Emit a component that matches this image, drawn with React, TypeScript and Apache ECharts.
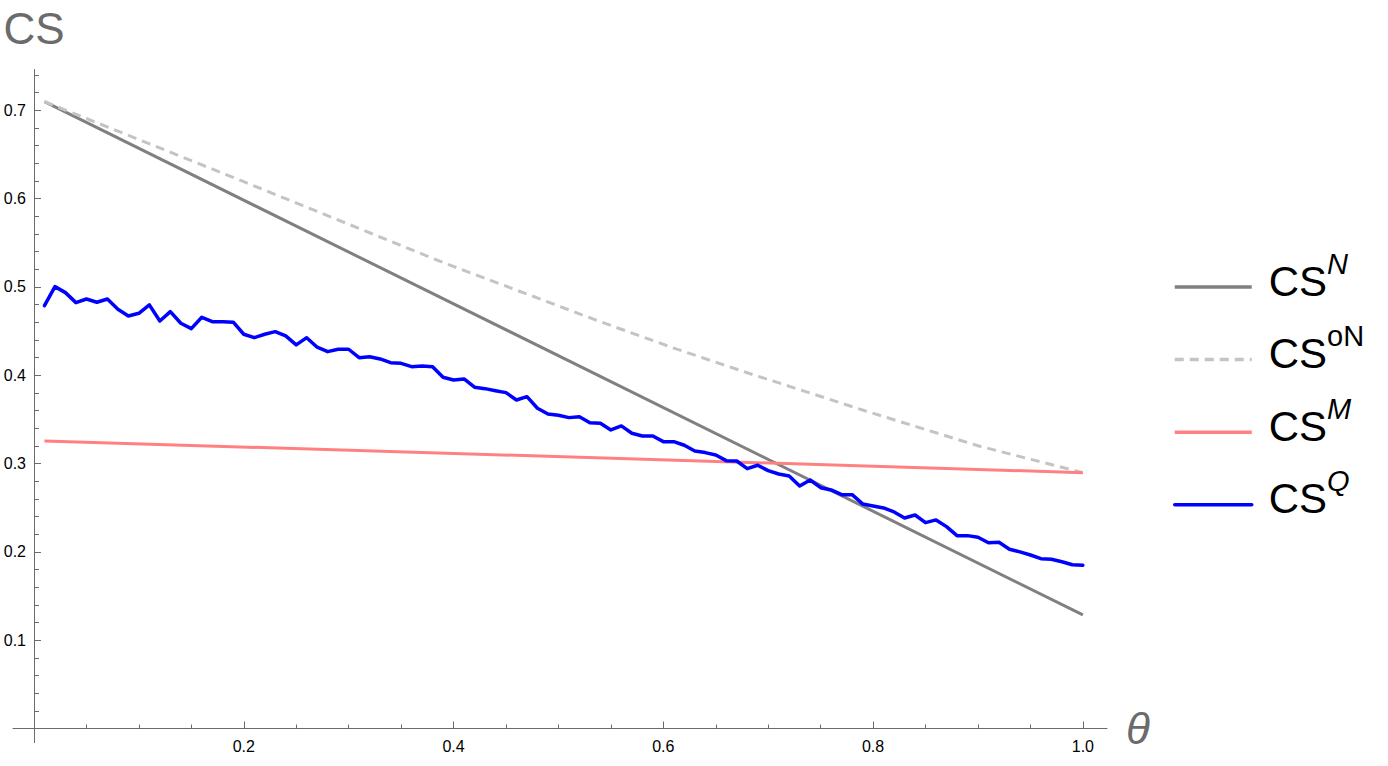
import React, { useEffect, useRef } from 'react';
import * as echarts from 'echarts';

// theta grid of the simulated CS^Q curve
const thetaQ = [
  0.01, 0.02, 0.03, 0.04, 0.05, 0.06, 0.07, 0.08, 0.09, 0.10,
  0.11, 0.12, 0.13, 0.14, 0.15, 0.16, 0.17, 0.18, 0.19, 0.20,
  0.21, 0.22, 0.23, 0.24, 0.25, 0.26, 0.27, 0.28, 0.29, 0.30,
  0.31, 0.32, 0.33, 0.34, 0.35, 0.36, 0.37, 0.38, 0.39, 0.40,
  0.41, 0.42, 0.43, 0.44, 0.45, 0.46, 0.47, 0.48, 0.49, 0.50,
  0.51, 0.52, 0.53, 0.54, 0.55, 0.56, 0.57, 0.58, 0.59, 0.60,
  0.61, 0.62, 0.63, 0.64, 0.65, 0.66, 0.67, 0.68, 0.69, 0.70,
  0.71, 0.72, 0.73, 0.74, 0.75, 0.76, 0.77, 0.78, 0.79, 0.80,
  0.81, 0.82, 0.83, 0.84, 0.85, 0.86, 0.87, 0.88, 0.89, 0.90,
  0.91, 0.92, 0.93, 0.94, 0.95, 0.96, 0.97, 0.98, 0.99, 1.00,
];
const csQ = [
  0.4787, 0.5002, 0.4934, 0.4821, 0.4862, 0.4825, 0.4862, 0.4746, 0.4670, 0.4700,
  0.4795, 0.4613, 0.4719, 0.4587, 0.4526, 0.4655, 0.4605, 0.4605, 0.4599, 0.4463,
  0.4424, 0.4463, 0.4492, 0.4444, 0.4342, 0.4424, 0.4316, 0.4266, 0.4293, 0.4293,
  0.4198, 0.4209, 0.4183, 0.4141, 0.4134, 0.4096, 0.4104, 0.4096, 0.3976, 0.3945,
  0.3957, 0.3863, 0.3847, 0.3824, 0.3802, 0.3719, 0.3756, 0.3625, 0.3560, 0.3546,
  0.3519, 0.3530, 0.3462, 0.3455, 0.3379, 0.3425, 0.3342, 0.3311, 0.3311, 0.3247,
  0.3247, 0.3206, 0.3142, 0.3123, 0.3096, 0.3032, 0.3028, 0.2941, 0.2980, 0.2919,
  0.2881, 0.2859, 0.2745, 0.2813, 0.2726, 0.2700, 0.2647, 0.2647, 0.2542, 0.2519,
  0.2496, 0.2451, 0.2383, 0.2417, 0.2330, 0.2361, 0.2285, 0.2183, 0.2183, 0.2165,
  0.2103, 0.2108, 0.2029, 0.1999, 0.1964, 0.1922, 0.1916, 0.1888, 0.1854, 0.1848,
];

const thetaN = [0.01, 1.0];
const csN = [0.7096, 0.1285];

const thetaON = [0.01, 0.2, 0.39, 0.54, 0.61, 0.68, 0.79, 0.9, 1.0];
const csON = [0.7096, 0.619, 0.5275, 0.4605, 0.4306, 0.4027, 0.3605, 0.3200, 0.2896];

const thetaM = [0.01, 1.0];
const csM = [0.3255, 0.2896];

const xMajorTicks = [0.2, 0.4, 0.6, 0.8, 1.0];
const xMinorTicks = [0.05, 0.1, 0.15, 0.25, 0.3, 0.35, 0.45, 0.5, 0.55, 0.65, 0.7, 0.75, 0.85, 0.9, 0.95];
const yMajorTicks = [0.1, 0.2, 0.3, 0.4, 0.5, 0.6, 0.7];
const yMinorTicks = [
  0.02, 0.04, 0.06, 0.08, 0.12, 0.14, 0.16, 0.18, 0.22, 0.24, 0.26, 0.28,
  0.32, 0.34, 0.36, 0.38, 0.42, 0.44, 0.46, 0.48, 0.52, 0.54, 0.56, 0.58,
  0.62, 0.64, 0.66, 0.68, 0.72, 0.74,
];

const seriesNames = ['CS^N', 'CS^oN', 'CS^M', 'CS^Q'];
const legendLabels: Record<string, string> = {
  'CS^N': '{b|CS}{si|N}\n{e| }',
  'CS^oN': '{b|CS}{su|oN}\n{e| }',
  'CS^M': '{b|CS}{si|M}\n{e| }',
  'CS^Q': '{b|CS}{si|Q}\n{e| }',
};

const zip = (xs: number[], ys: number[]) => xs.map((x, i) => [x, ys[i]]);

const FONT = '"Liberation Sans", Arial, Helvetica, sans-serif';
const AXIS_COLOR = '#6b6b6b';

export default function App() {
  const ref = useRef<HTMLDivElement>(null);
  useEffect(() => {
    if (!ref.current) return;
    const chart = echarts.init(ref.current, null, { renderer: 'svg' });
    const xRange = { min: -0.02, max: 1.023 };
    const yRange = { min: -0.016, max: 0.746 };
    const option: any = {
      animation: false,
      backgroundColor: '#ffffff',
      grid: {
        left: 13, right: 281, top: 69.5, bottom: 23.4,
        containLabel: false, outerBoundsMode: 'none',
      },
      legend: {
        orient: 'vertical',
        left: 1173,
        top: 249,
        padding: 0,
        itemWidth: 77,
        itemHeight: 14,
        itemGap: -1.4,
        data: seriesNames,
        formatter: (name: string) => legendLabels[name],
        itemStyle: { opacity: 0, color: 'rgba(0,0,0,0)', borderWidth: 0 },
        lineStyle: { width: 3.5 },
        textStyle: {
          color: '#000',
          fontFamily: FONT,
          rich: {
            b: { fontSize: 42, fontFamily: FONT, color: '#000', lineHeight: 64, verticalAlign: 'middle', padding: [0, 0, 0, 12] },
            si: { fontSize: 29, fontFamily: FONT, fontStyle: 'italic', color: '#000', lineHeight: 32, verticalAlign: 'top' },
            su: { fontSize: 29, fontFamily: FONT, color: '#000', lineHeight: 32, verticalAlign: 'top' },
            e: { fontSize: 8, lineHeight: 12 },
          },
        },
      },
      xAxis: [
        {
          type: 'value',
          ...xRange,
          position: 'bottom',
          name: 'θ',
          nameLocation: 'end',
          nameGap: 19,
          nameTextStyle: { fontSize: 44, fontStyle: 'italic', color: AXIS_COLOR, fontFamily: FONT },
          axisLine: { show: true, onZero: true, onZeroAxisIndex: 0, lineStyle: { color: AXIS_COLOR, width: 1 } },
          axisTick: { show: true, inside: true, length: 7, customValues: xMajorTicks, lineStyle: { color: AXIS_COLOR } },
          axisLabel: {
            show: true, customValues: xMajorTicks, margin: -4, fontSize: 16, color: '#000', fontFamily: FONT,
            formatter: (v: number) => v.toFixed(1),
          },
          splitLine: { show: false },
        },
        {
          type: 'value',
          ...xRange,
          position: 'bottom',
          axisLine: { show: false, onZero: true, onZeroAxisIndex: 0 },
          axisTick: { show: true, inside: true, length: 4, customValues: xMinorTicks, lineStyle: { color: AXIS_COLOR } },
          axisLabel: { show: false },
          splitLine: { show: false },
        },
      ],
      yAxis: [
        {
          type: 'value',
          ...yRange,
          position: 'left',
          name: 'CS',
          nameLocation: 'end',
          nameGap: 19,
          nameTextStyle: { fontSize: 44, color: AXIS_COLOR, fontFamily: FONT, align: 'center' },
          axisLine: { show: true, onZero: true, onZeroAxisIndex: 0, lineStyle: { color: AXIS_COLOR, width: 1 } },
          axisTick: { show: true, inside: true, length: 7, customValues: yMajorTicks, lineStyle: { color: AXIS_COLOR } },
          axisLabel: {
            show: true, customValues: yMajorTicks, margin: -13, fontSize: 16, color: '#000', fontFamily: FONT,
            formatter: (v: number) => v.toFixed(1),
          },
          splitLine: { show: false },
        },
        {
          type: 'value',
          ...yRange,
          position: 'left',
          axisLine: { show: false, onZero: true, onZeroAxisIndex: 0 },
          axisTick: { show: true, inside: true, length: 5, customValues: yMinorTicks, lineStyle: { color: AXIS_COLOR } },
          axisLabel: { show: false },
          splitLine: { show: false },
        },
      ],
      series: [
        {
          name: 'CS^N', type: 'line', xAxisIndex: 0, yAxisIndex: 0, symbol: 'none',
          data: zip(thetaN, csN),
          lineStyle: { color: '#808080', width: 3 }, itemStyle: { color: '#808080' },
        },
        {
          name: 'CS^oN', type: 'line', xAxisIndex: 0, yAxisIndex: 0, symbol: 'none',
          data: zip(thetaON, csON),
          lineStyle: { color: '#c4c4c4', width: 3, type: [9, 6] }, itemStyle: { color: '#c4c4c4' },
        },
        {
          name: 'CS^M', type: 'line', xAxisIndex: 0, yAxisIndex: 0, symbol: 'none',
          data: zip(thetaM, csM),
          lineStyle: { color: '#ff8080', width: 3 }, itemStyle: { color: '#ff8080' },
        },
        {
          name: 'CS^Q', type: 'line', xAxisIndex: 0, yAxisIndex: 0, symbol: 'none',
          data: zip(thetaQ, csQ),
          lineStyle: { color: '#0000ff', width: 3.5, join: 'round', cap: 'round' }, itemStyle: { color: '#0000ff' },
        },
      ],
    };
    chart.setOption(option);
    return () => chart.dispose();
  }, []);
  return (
    <div
      ref={ref}
      style={{ position: 'fixed', left: 0, top: 0, width: 1388, height: 766, background: '#fff' }}
    />
  );
}
